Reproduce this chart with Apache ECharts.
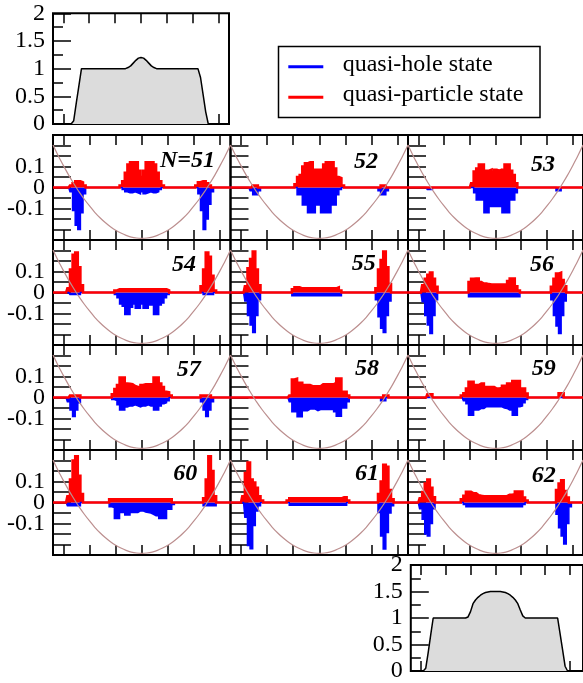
<!DOCTYPE html>
<html><head><meta charset="utf-8">
<script src="https://cdn.jsdelivr.net/npm/echarts@6/dist/echarts.min.js"></script>
<style>html,body{margin:0;padding:0;background:#fff}#c{width:583px;height:683px}</style>
</head><body><div id="c"></div>
<script>
// lattice sites (x) shared by all panels
const sites = [-34,-33,-32,-31,-30,-29,-28,-27,-26,-25,-24,-23,-22,-21,-20,-19,-18,-17,-16,-15,-14,-13,-12,
-11,-10,-9,-8,-7,-6,-5,-4,-3,-2,-1,0,1,2,3,4,5,6,7,8,9,10,11,
12,13,14,15,16,17,18,19,20,21,22,23,24,25,26,27,28,29,30,31,32,33,34];

// density profiles (top and bottom small panels)
const densTop = [0,0,0,0,0,0,0,0,0.06,0.38,0.69,1,1,1,1,1,1,1,1,1,1,1,1,
1,1,1,1,1,1,1.02,1.05,1.1,1.15,1.19,1.2,1.19,1.15,1.1,1.05,1.02,1,1,1,1,1,1,
1,1,1,1,1,1,1,1,1,1,1,0.84,0.53,0.22,0,0,0,0,0,0,0,0,0];
const densBot = [0,0,0,0,0,0,0.05,0.35,0.68,1,1,1,1,1,1,1,1,1,1,1,1,1,1,
1.02,1.12,1.27,1.34,1.39,1.43,1.46,1.48,1.49,1.5,1.5,1.5,1.5,1.5,1.49,1.48,1.46,1.43,1.39,1.34,1.27,1.15,1.04,
1,1,1,1,1,1,1,1,1,1,1,1,1,1,0.7,0.4,0.09,0,0,0,0,0,0];

// trap potential curve (in units of 0.01)
const potX = [-34,-32,-30,-28,-26,-24,-22,-20,-18,-16,-14,-12,-10,-8,-6,-4,-2,0,2,4,6,8,10,12,14,16,18,20,22,24,26,28,30,32,34];
const potV = [20.2,15.1,10.4,5.9,1.8,-2.1,-5.6,-8.8,-11.8,-14.4,-16.7,-18.7,-20.4,-21.7,-22.8,-23.6,-24.05,-24.2,-24.05,-23.6,-22.8,-21.7,-20.4,-18.7,-16.7,-14.4,-11.8,-8.8,-5.6,-2.1,1.8,5.9,10.4,15.1,20.2];

// quasi-particle (qp, red) and quasi-hole (qh, blue) amplitudes, units of 0.01
const qp51 = [0,0,0,0,0,0,0,1,2,3,3,2.5,1,0,0,0,0,0,0,0,0,0,0,
0,0,0,1,3,7,11,12,12,12,8,5,8,12,12,12,11,7,3,1,0,0,0,
0,0,0,0,0,0,0,0,0,1,2.5,3,3,2,1,0,0,0,0,0,0,0,0];
const qh51 = [0,0,0,0,0,0,0,-2,-11,-18,-20,-12,-3,0,0,0,0,0,0,0,0,0,0,
0,0,0,0,-1,-2,-2.5,-2.5,-2,-2.5,-3,-2,-3,-2.5,-2,-2.5,-2.5,-2,-1,0,0,0,0,
0,0,0,0,0,0,0,0,0,0,-3,-11,-20,-15,-8,-2,0,0,0,0,0,0,0];
const qp52 = [0,0,0,0,0,0,0,0,0,1,1,0,0,0,0,0,0,0,0,0,0,0,0,
0,0,1.5,5,6,10,11.5,12,12,8.5,8.5,8.5,8.5,11,12,12,12,9,5,4.5,1,0,0,
0,0,0,0,0,0,0,0,0,0,0,0,1,1,0,0,0,0,0,0,0,0,0];
const qh52 = [0,0,0,0,0,0,0,0,-1.5,-3.5,-3.5,-1.5,0,0,0,0,0,0,0,0,0,0,0,
0,0,0,-3.5,-3.5,-8.3,-8.3,-12,-12,-12,-8.3,-8.3,-12,-12,-12,-12,-8.3,-8.3,-3.5,-1,0,0,0,
0,0,0,0,0,0,0,0,0,0,0,-1.5,-3.5,-3.5,-1.5,0,0,0,0,0,0,0,0];
const qp53 = [0,0,0,0,0,0,0,0,0,0,0,0,0,0,0,0,0,0,0,0,0,0,0,
0,0,2,7.6,9,11,11,8,8,8.5,7.5,8.5,8,8.5,8,11,11,8,6,2,0,0,0,
0,0,0,0,0,0,0,0,0,0,0,0,0,0,0,0,0,0,0,0,0,0,0];
const qh53 = [0,0,0,0,0,0,0,0,-1,-1,0,0,0,0,0,0,0,0,0,0,0,0,0,
0,0,0,-2.5,-6,-6,-6,-12,-12,-9,-9,-9,-9,-9,-12,-12,-12,-6,-6,-2.5,0,0,0,
0,0,0,0,0,0,0,0,0,0,0,0,-1.5,-1.5,0,0,0,0,0,0,0,0,0];
const qp54 = [0,0,0,0,0,0,2,11,18,19,12,3.5,0,0,0,0,0,0,0,0,0,0,0,
0,1,1.5,1.5,1.5,1.5,1.5,1.5,1.5,1.5,1.5,1.5,1.5,1.5,1.5,1.5,1.5,1.5,1.5,1.5,1.5,1,0,
0,0,0,0,0,0,0,0,0,0,0,3,11,19,17,8,1,0,0,0,0,0,0];
const qh54 = [0,0,0,0,0,0,0,-1,-1,-1,-1,0,0,0,0,0,0,0,0,0,0,0,0,
0,-1,-2.5,-5.5,-6.5,-10.5,-10.5,-7,-5.5,-7.5,-7.5,-5.5,-7.5,-7.5,-6,-6,-10.5,-10.5,-6,-5,-2.5,-1,0,
0,0,0,0,0,0,0,0,0,0,0,0,-1,-1,-1,-1,0,0,0,0,0,0,0];
const qp55 = [0,0,0,0,0,0,3,11.5,16,19.5,11,3.5,0,0,0,0,0,0,0,0,0,0,0,
0,1.5,2.5,2.5,2,2,2,2,2,2,2,2,2,2,2,2,2,2,2.5,1,0,0,0,
0,0,0,0,0,0,0,0,0,0,2,11,15.5,19.5,12,4,0,0,0,0,0,0,0];
const qh55 = [0,0,0,0,0,0,-4,-11,-15.5,-19,-11,-3.5,0,0,0,0,0,0,0,0,0,0,0,
0,-1.5,-1.5,-1.5,-1.5,-1.5,-1.5,-1.5,-1.5,-1.5,-1.5,-1.5,-1.5,-1.5,-1.5,-1.5,-1.5,-1.5,-1.5,-1.5,0,0,0,
0,0,0,0,0,0,0,0,0,0,-3.5,-11.5,-17,-19,-11,-4,0,0,0,0,0,0,0];
const qp56 = [0,0,0,0,0,0,3.5,6.5,8.5,9.5,6.5,2.7,0,0,0,0,0,0,0,0,0,0,0,
0,5,6.5,6.7,6.7,5,4.3,4.3,4,3.8,3.8,3.8,3.8,3.8,3.8,3.8,5.5,6.7,6.7,3,1,0,0,
0,0,0,0,0,0,0,0,0,0,2.7,6.5,9,9.5,6,3,0,0,0,0,0,0,0];
const qh56 = [0,0,0,0,0,0,-4.4,-11,-15.5,-19.5,-11,-3.5,0,0,0,0,0,0,0,0,0,0,0,
0,-2,-2,-2,-2,-2,-2,-2,-2,-2,-2,-2,-2,-2,-2,-2,-2,-2,-2,-2,-2,0,0,
0,0,0,0,0,0,0,0,0,0,-3.5,-11,-16,-19.5,-11,-4,0,0,0,0,0,0,0];
const qp57 = [0,0,0,0,0,0,0,1,1,1,1,0,0,0,0,0,0,0,0,0,0,0,0,
1.5,4,6,9.5,9.5,6.7,6.5,6.3,5.5,5,5,6,6.3,6.3,6.3,6.3,9.5,9.5,6.7,5,2.7,2.5,1,
0,0,0,0,0,0,0,0,0,0,0,1,1,1,1,0,0,0,0,0,0,0,0];
const qh57 = [0,0,0,0,0,0,-2,-6,-9,-6,-2.5,0,0,0,0,0,0,0,0,0,0,0,0,
-1,-1.5,-3.5,-6,-6,-4.5,-4,-4,-3.5,-4,-4.5,-4,-4,-3.5,-4,-4,-6,-6,-4,-3,-2.5,-1.5,0,
0,0,0,0,0,0,0,0,0,0,0,-2,-6,-9,-6,-2,0,0,0,0,0,0,0];
const qp58 = [0,0,0,0,0,0,0,0,0,0,0,0,0,0,0,0,0,0,0,0,0,0,0,
1,8.6,9,7,7,5.9,5.9,5.9,5.4,5.4,5.4,5.4,6.3,6.3,6.3,6.3,6.3,7,9,9,2.7,2.7,1,
0,0,0,0,0,0,0,0,0,0,0,0,0,1,1,0,0,0,0,0,0,0,0];
const qh58 = [0,0,0,0,0,0,0,0,0,0,0,0,0,0,0,0,0,0,0,0,0,0,0,
-2,-6.8,-6.8,-9.2,-9.2,-6.3,-6.3,-5.5,-5.5,-5.5,-6.3,-5.7,-5.7,-5.7,-5.7,-5.7,-5.7,-6.8,-8.9,-8.9,-5,-5,-2,
0,0,0,0,0,0,0,0,0,0,0,0,-1.5,-1.5,0,0,0,0,0,0,0,0,0];
const qp59 = [0,0,0,0,0,0,0,0,1.5,1.5,0,0,0,0,0,0,0,0,0,0,0,1,2,
4.3,7.5,7.5,5.9,5.9,6.7,6.7,5,5,5,5,4.3,4.3,4.5,5.6,5.6,6.7,6.7,7.8,7.8,7.8,4.3,4.3,
1.9,0,0,0,0,0,0,0,0,0,0,0,0,2,2,0,0,0,0,0,0,0,0];
const qh59 = [0,0,0,0,0,0,0,0,0,0,0,0,0,0,0,0,0,0,0,0,0,0,-1.5,
-3,-8.4,-8.4,-6,-6,-5.2,-5.2,-4.4,-4.4,-4.4,-4.4,-4.4,-4.4,-4.4,-5,-5.2,-6,-6,-8.4,-8.4,-4.4,-4,-2.5,
-1,0,0,0,0,0,0,0,0,0,0,0,0,0,0,0,0,0,0,0,0,0,0];
const qp60 = [0,0,0,0,0,0,3,11,20,22,12.7,4,0,0,0,0,0,0,0,0,0,0,1.5,
1.5,1.5,1.5,1.5,1.5,1.5,1.5,1.5,1.5,1.5,1.5,1.5,1.5,1.5,1.5,1.5,1.5,1.5,1.5,1.5,1.5,1.5,1.5,
0,0,0,0,0,0,0,0,0,0,0,0,2,11,22,15,3,0,0,0,0,0,0];
const qh60 = [0,0,0,0,0,0,-1.5,-1.5,-1.5,-1.5,-1.5,0,0,0,0,0,0,0,0,0,0,0,-2,
-2.4,-7.6,-7.6,-4.8,-4.8,-6,-6,-4.8,-4.8,-4.8,-4,-4,-4.5,-4.8,-5,-5.6,-6.3,-6.3,-7.6,-7.6,-7.6,-3.2,-3.2,
-1,0,0,0,0,0,0,0,0,0,0,0,-1.5,-1.5,-1.5,-1.5,-1.5,0,0,0,0,0,0];
const qp61 = [0,0,0,0,0,3,14,19,11,9.5,7,3,1,0,0,0,0,0,0,0,0,0,1,
2,2,2,2,2,2,2,2,2,2,2,2,2,2,2,2,2,2,2,2,2.5,2.5,1,
0,0,0,0,0,0,0,0,0,0,0,4,10,18,17,6,1.5,0,0,0,0,0,0];
const qh61 = [0,0,0,0,0,0,-7,-20.5,-22,-11,-4,-1.5,0,0,0,0,0,0,0,0,0,0,0,
-1.3,-1.3,-1.3,-1.3,-1.3,-1.3,-1.3,-1.3,-1.3,-1.3,-1.3,-1.3,-1.3,-1.3,-1.3,-1.3,-1.3,-1.3,-1.3,-1.3,-1.3,-1.3,0,
0,0,0,0,0,0,0,0,0,0,0,-4.8,-15.9,-22.2,-14.3,-5,-1.5,0,0,0,0,0,0];
const qp62 = [0,0,0,0,0,2,5,9,11,7,2.5,0,0,0,0,0,0,0,0,0,0,1.5,3.2,
5.1,5.1,4.4,4.4,3.5,3.2,3,3,3,3,3,3,3,3,3,3,3.7,3.7,4,5.2,5.2,5.2,2.4,
1,0,0,0,0,0,0,0,0,0,0,0,6,9,10.6,5.5,2.4,0,0,0,0,0,0];
const qh62 = [0,0,0,0,0,-3,-8,-15,-16,-10,-3,0,0,0,0,0,0,0,0,0,0,0,-1,
-2,-2,-2,-2,-2,-2,-2,-2,-2,-2,-2,-2,-2,-2,-2,-2,-2,-2,-2,-2,-2,-2,-1,
0,0,0,0,0,0,0,0,0,0,0,0,-5.6,-12,-16,-19.8,-10,-2,0,0,0,0,0];

const panelNames = ['N=51','52','53','54','55','56','57','58','59','60','61','62'];
const xTicks = [-30,-20,-10,0,10,20,30];
const panelTickVals = [-10,0,10];
const panelTickText = ['-0.1','0','0.1'];
const densTickText = ['0','0.5','1','1.5','2'];
const legendNames = ['quasi-hole state','quasi-particle state'];

const qpAll = [qp51,qp52,qp53,qp54,qp55,qp56,qp57,qp58,qp59,qp60,qp61,qp62];
const qhAll = [qh51,qh52,qh53,qh54,qh55,qh56,qh57,qh58,qh59,qh60,qh61,qh62];
[densTop,densBot].concat(qpAll,qhAll).forEach((a,i)=>{ if(a.length!==sites.length) throw new Error('array '+i+' has length '+a.length); });

const FONT = 'Liberation Serif';
const BLUE = '#0000ff', RED = '#ff0000', BROWN = '#bc8f8f';
const pairs = (xs, ys) => xs.map((x,i)=>[x, ys[i]]);

const grids=[], xAxes=[], yAxes=[], series=[], graphics=[];
function addGrid(left, top, width, height){
  grids.push({left, top, width, height, show:true, borderColor:'#000', borderWidth:2, backgroundColor:'transparent'});
  return grids.length-1;
}
function addX(g, min, max){
  const idx = xAxes.length;
  ['bottom','top'].forEach(pos=>xAxes.push({gridIndex:g, type:'value', min, max, position:pos,
    axisLine:{show:false, onZero:false}, splitLine:{show:false}, axisLabel:{show:false},
    axisTick:{show:true, inside:true, length:10, customValues:xTicks, lineStyle:{color:'#000', width:1.5}}}));
  return idx;
}

function densPanel(left, top, width, height, xmax, data){
  const g = addGrid(left, top, width, height);
  const xi = addX(g, -34, xmax);
  const yi = yAxes.length;
  yAxes.push({gridIndex:g, type:'value', min:0, max:2, interval:0.5, position:'left',
    axisLine:{show:false, onZero:false}, splitLine:{show:false},
    axisTick:{show:true, inside:true, length:18, lineStyle:{color:'#000', width:1.5}},
    minorTick:{show:true, splitNumber:2, length:10, lineStyle:{color:'#000', width:1.5}},
    axisLabel:{fontFamily:FONT, fontSize:24, color:'#000', margin:8,
      formatter:v=>densTickText[Math.round(v*2)]}});
  series.push({type:'line', xAxisIndex:xi, yAxisIndex:yi, data:pairs(sites,data), symbol:'none',
    lineStyle:{color:'#000', width:1.5}, areaStyle:{color:'#dcdcdc', opacity:1}, silent:true});
}
// top density panel
densPanel(53, 13.3, 176, 110.7, 34, densTop);

const colLeft = [53, 230.5, 408];
const rowTop = [135, 240, 345, 450];
const labelPos = [[160,161],[354,162],[531,164.6],[172,265],[351.7,263.3],[530,265],
                  [176.7,370],[355,368.8],[531.7,368.3],[173.3,473.3],[355,473.3],[531.7,475.5]];
for(let p=0;p<12;p++){
  const r = Math.floor(p/3), c = p%3;
  const g = addGrid(colLeft[c], rowTop[r], 177.5, 105);
  const xi = addX(g, -34, 34);
  const yi = yAxes.length;
  yAxes.push({gridIndex:g, type:'value', min:-25, max:25, interval:5, position:'left',
    axisLine:{show:false, onZero:false}, splitLine:{show:false},
    axisTick:{show:true, inside:true, length:18, lineStyle:{color:'#000', width:1.5}},
    axisLabel:{show:c===0, fontFamily:FONT, fontSize:24, color:'#000', margin:8,
      formatter:v=>{const i=panelTickVals.indexOf(v); return i>=0?panelTickText[i]:'';}}});
  series.push({name:legendNames[0], type:'line', step:'middle', xAxisIndex:xi, yAxisIndex:yi,
    data:pairs(sites,qhAll[p]), symbol:'none', lineStyle:{color:BLUE, width:1.5, join:'miter'},
    areaStyle:{color:BLUE, opacity:1}, silent:true});
  series.push({name:legendNames[1], type:'line', step:'middle', xAxisIndex:xi, yAxisIndex:yi,
    data:pairs(sites,qpAll[p]), symbol:'none', lineStyle:{color:RED, width:2.5, join:'miter'},
    areaStyle:{color:RED, opacity:1}, silent:true});
  series.push({type:'line', xAxisIndex:xi, yAxisIndex:yi, data:pairs(potX,potV), symbol:'none', smooth:0.3,
    lineStyle:{color:BROWN, width:1.2}, silent:true});
  graphics.push({type:'text', x:labelPos[p][0], y:labelPos[p][1], z:100,
    style:{text:panelNames[p], font:"italic bold 24px 'Liberation Serif'", fill:'#000', verticalAlign:'middle', align:'left'}});
}

// bottom density panel
densPanel(410.8, 565, 175, 107, 35.2, densBot);

// legend box
graphics.push({type:'rect', shape:{x:278.5, y:46.5, width:261.5, height:71}, style:{fill:'#fff', stroke:'#000', lineWidth:1.5}, z:100});
graphics.push({type:'line', shape:{x1:288.3, y1:66.7, x2:323.3, y2:66.7}, style:{stroke:BLUE, lineWidth:3}, z:101});
graphics.push({type:'line', shape:{x1:288.3, y1:97.3, x2:323.3, y2:97.3}, style:{stroke:RED, lineWidth:3}, z:101});
graphics.push({type:'text', x:342.7, y:64.4, z:101, style:{text:legendNames[0], font:"24px 'Liberation Serif'", fill:'#000', verticalAlign:'middle'}});
graphics.push({type:'text', x:342.7, y:94.4, z:101, style:{text:legendNames[1], font:"24px 'Liberation Serif'", fill:'#000', verticalAlign:'middle'}});

const chart = echarts.init(document.getElementById('c'), null, {renderer:'canvas'});
chart.setOption({animation:false, grid:grids, xAxis:xAxes, yAxis:yAxes, series, graphic:graphics});
</script></body></html>
